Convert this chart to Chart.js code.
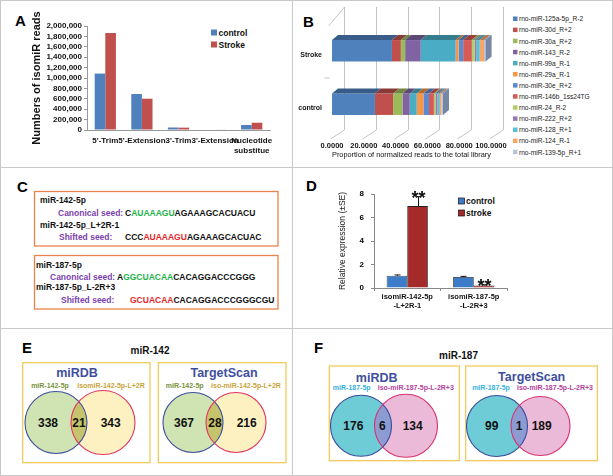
<!DOCTYPE html>
<html>
<head>
<meta charset="utf-8">
<script src="https://cdn.jsdelivr.net/npm/chart.js@4.4.0/dist/chart.umd.min.js"></script>
<style>
  body { margin: 0; background: #fff; }
  #fig { position: relative; width: 613px; height: 476px; overflow: hidden; }
  #fig canvas { position: absolute; }
  #art { position: absolute; left: 0; top: 0; }
</style>
</head>
<body>
<div id="fig">
  <svg id="art" width="613" height="476" font-family="'Liberation Sans', Arial, sans-serif"></svg>
  <canvas id="chartA" width="292" height="166" style="left:0;top:0"></canvas>
  <canvas id="chartB" width="320" height="167" style="left:293px;top:0"></canvas>
  <canvas id="chartD" width="320" height="158" style="left:293px;top:168px"></canvas>
</div>
<script>
// ---- panel A: isomiR read counts
const aCategories = ["5'-Trim", "5'-Extension", "3'-Trim", "3'-Extension", ["Nucleotide", "substitue"]];
const aSeries = ["control", "Stroke"];
const aControl = [1085000, 692000, 48000, 10000, 96000];
const aStroke = [1865000, 602000, 45000, 8000, 140000];

// ---- panel B: proportion of normalized reads
const bGroups = ["Stroke", "control"];
const bNames = ["rno-miR-125a-5p_R-2", "rno-miR-30d_R+2", "rno-miR-30a_R+2", "rno-miR-143_R-2",
  "rno-miR-99a_R-1", "rno-miR-29a_R-1", "rno-miR-30e_R+2", "rno-miR-146b_1ss24TG", "rno-miR-24_R-2",
  "rno-miR-222_R+2", "rno-miR-128_R+1", "rno-miR-124_R-1", "rno-miR-139-5p_R+1"];
const bStroke = [37.7, 5.6, 2.7, 9.8, 22.0, 1.8, 2.9, 5.4, 1.9, 1.0, 2.1, 2.7, 1.0];
const bControl = [27.0, 11.5, 5.8, 4.6, 4.4, 4.2, 3.5, 3.1, 1.0, 1.2, 1.3, 1.2, 1.0];

// ---- panel D: qPCR
const dCategories = [["isomiR-142-5p", "-L+2R-1"], ["isomiR-187-5p", "-L-2R+3"]];
const dSeries = ["control", "stroke"];
const dControl = [1.04, 0.93];
const dStroke = [6.97, 0.22];
const dControlSE = [0.07, 0.06];
const dStrokeSE = [0.8, 0.05];
const dStrokeSig = ["**", "**"];

// ---- panels E / F: target overlaps (only, shared, only)
const eTitle = "miR-142";
const eMirdb = [338, 21, 343];
const eTargetscan = [367, 28, 216];
const fTitle = "miR-187";
const fMirdb = [176, 6, 134];
const fTargetscan = [99, 1, 189];

const FONT = "'Liberation Sans', Arial, sans-serif";
Chart.defaults.font.family = FONT;
const bCols = ["#4f81bd", "#c0504d", "#9bbb59", "#8064a2", "#4bacc6", "#f79646", "#5a8ad0",
  "#d65a56", "#aed06a", "#9378b8", "#55bfd8", "#f9a665", "#b7c4dc"];
const aCols = ["#4f81bd", "#c0504d"];
const dCols = ["#3d7cc9", "#a52a2a"];

function shade(hex, f) {
  const n = parseInt(hex.slice(1), 16);
  const r = Math.round(((n >> 16) & 255) * f), g = Math.round(((n >> 8) & 255) * f), b = Math.round((n & 255) * f);
  return `rgb(${r},${g},${b})`;
}

// A
new Chart(document.getElementById("chartA"), {
  type: "bar",
  data: {
    labels: aCategories,
    datasets: [
      { label: aSeries[0], data: aControl, backgroundColor: aCols[0] },
      { label: aSeries[1], data: aStroke, backgroundColor: aCols[1] },
    ],
  },
  options: {
    responsive: false, animation: false, devicePixelRatio: 1,
    layout: { padding: { left: 30, top: 26, right: 22, bottom: 3 } },
    plugins: { legend: { display: false }, tooltip: { enabled: false } },
    datasets: { bar: { categoryPercentage: 0.58, barPercentage: 1 } },
    scales: {
      x: {
        grid: { display: false, drawTicks: false }, border: { color: "#999" },
        ticks: { font: { size: 8, weight: "bold" }, color: "#111", autoSkip: false, maxRotation: 0, padding: 6 },
        afterFit: (s) => { s.height = 33; },
      },
      y: {
        min: 0, max: 2000000,
        grid: { drawOnChartArea: false, tickLength: 3, color: "#999" }, border: { color: "#999" },
        ticks: { stepSize: 200000, autoSkip: false, font: { size: 8, weight: "bold" }, color: "#111", padding: 2,
          callback: (v) => v.toLocaleString("en-US") },
        title: { display: true, text: "Numbers of isomiR reads", font: { size: 11, weight: "bold" }, color: "#111", padding: 0 },
        afterFit: (s) => { s.width = 57; },
      },
    },
  },
});

// B : flat stacked bars with a drawn 3D look
const wall3d = {
  id: "wall3d",
  beforeDatasetsDraw(chart) {
    const { ctx, chartArea: a, scales: { x } } = chart;
    ctx.save();
    ctx.strokeStyle = "#c4c4c4";
    ctx.lineWidth = 1;
    x.ticks.forEach((t) => {
      const px = Math.round(x.getPixelForValue(t.value)) + 0.5;
      ctx.beginPath();
      ctx.moveTo(px - 2, a.bottom + 8);
      ctx.lineTo(px + 12, a.bottom - 1);
      ctx.lineTo(px + 12, a.top - 17);
      ctx.stroke();
    });
    const x0 = Math.round(x.getPixelForValue(0)) + 0.5;
    ctx.beginPath();
    ctx.moveTo(x0 - 4, a.top + 2);
    ctx.lineTo(x0 + 12, a.top - 17);
    ctx.moveTo(x0 - 8, (a.top + a.bottom) / 2 + 0.5);
    ctx.lineTo(x0 - 3, (a.top + a.bottom) / 2 + 0.5);
    ctx.stroke();
    ctx.restore();
  },
  afterDatasetsDraw(chart) {
    const ctx = chart.ctx;
    const dx = 6, dy = 5;
    const n = chart.data.datasets.length;
    ctx.save();
    chart.data.datasets.forEach((ds, i) => {
      chart.getDatasetMeta(i).data.forEach((bar) => {
        const p = bar.getProps(["x", "y", "base", "height"], true);
        const top = p.y - p.height / 2, bot = p.y + p.height / 2;
        const l = Math.min(p.base, p.x), r = Math.max(p.base, p.x);
        ctx.fillStyle = shade(ds.backgroundColor, 0.72);
        ctx.beginPath();
        ctx.moveTo(l, top); ctx.lineTo(l + dx, top - dy); ctx.lineTo(r + dx, top - dy); ctx.lineTo(r, top);
        ctx.closePath(); ctx.fill();
        if (i === n - 1) {
          ctx.fillStyle = "#7586a6";
          ctx.beginPath();
          ctx.moveTo(r, top); ctx.lineTo(r + dx, top - dy); ctx.lineTo(r + dx, bot - dy); ctx.lineTo(r, bot);
          ctx.closePath(); ctx.fill();
        }
      });
    });
    ctx.restore();
  },
};

new Chart(document.getElementById("chartB"), {
  type: "bar",
  data: {
    labels: bGroups,
    datasets: bNames.map((name, i) => ({ label: name, data: [bStroke[i], bControl[i]], backgroundColor: bCols[i] })),
  },
  options: {
    indexAxis: "y", responsive: false, animation: false, devicePixelRatio: 1,
    layout: { padding: { left: 0, top: 24, right: 122, bottom: 8 } },
    plugins: { legend: { display: false }, tooltip: { enabled: false } },
    datasets: { bar: { categoryPercentage: 1, barPercentage: 0.4 } },
    scales: {
      x: {
        stacked: true, min: 0, max: 100,
        grid: { display: false, drawTicks: false }, border: { display: false },
        ticks: { stepSize: 20, autoSkip: false, maxRotation: 0, font: { size: 7.5, weight: "bold" }, color: "#111", padding: 10,
          callback: (v) => Number(v).toFixed(4) },
        title: { display: true, text: "Proportion of normalized reads to the total library",
          font: { size: 7.5 }, color: "#111", padding: { top: 1, bottom: 0 } },
        afterFit: (s) => { s.height = 28; },
      },
      y: {
        stacked: true, grid: { display: false, drawTicks: false }, border: { display: false },
        ticks: { font: { size: 7, weight: "bold" }, color: "#111", padding: 10, labelOffset: 4 },
        afterFit: (s) => { s.width = 39; },
      },
    },
  },
  plugins: [wall3d],
});

// D : bars with SE and significance marks
const errorBars = {
  id: "errorBars",
  afterDatasetsDraw(chart) {
    const { ctx, scales: { y } } = chart;
    ctx.save();
    ctx.strokeStyle = "#111";
    ctx.lineWidth = 1;
    chart.data.datasets.forEach((ds, i) => {
      chart.getDatasetMeta(i).data.forEach((bar, j) => {
        const x = Math.round(bar.x) + 0.5;
        const yTop = y.getPixelForValue(ds.data[j] + ds.errors[j]);
        ctx.beginPath();
        ctx.moveTo(x, bar.y); ctx.lineTo(x, yTop);
        ctx.moveTo(x - 3, yTop); ctx.lineTo(x + 3, yTop);
        ctx.stroke();
        if (ds.marks && ds.marks[j]) {
          ctx.fillStyle = "#111";
          ctx.font = "bold 18px " + FONT;
          ctx.textAlign = "center";
          ctx.textBaseline = "alphabetic";
          ctx.fillText(ds.marks[j], x, yTop + 7);
        }
      });
    });
    ctx.restore();
  },
};

new Chart(document.getElementById("chartD"), {
  type: "bar",
  data: {
    labels: dCategories,
    datasets: [
      { label: dSeries[0], data: dControl, errors: dControlSE, backgroundColor: dCols[0], borderColor: "#222", borderWidth: 0.8 },
      { label: dSeries[1], data: dStroke, errors: dStrokeSE, marks: dStrokeSig, backgroundColor: dCols[1], borderColor: "#222", borderWidth: 0.8 },
    ],
  },
  options: {
    responsive: false, animation: false, devicePixelRatio: 1,
    layout: { padding: { left: 45, top: 26, right: 106, bottom: 2 } },
    plugins: { legend: { display: false }, tooltip: { enabled: false } },
    datasets: { bar: { categoryPercentage: 0.62, barPercentage: 1 } },
    scales: {
      x: {
        grid: { drawOnChartArea: false, tickLength: 3, color: "#888", offset: true }, border: { color: "#888" },
        ticks: { font: { size: 7.5, weight: "bold" }, color: "#111", padding: 1, autoSkip: false, maxRotation: 0 },
        afterFit: (s) => { s.height = 36; },
      },
      y: {
        min: 0, max: 8,
        grid: { drawOnChartArea: false, tickLength: 3, color: "#888" }, border: { color: "#888" },
        ticks: { stepSize: 2, autoSkip: false, font: { size: 8, weight: "bold" }, color: "#000", padding: 7 },
        title: { display: true, text: "Relative expression (±SE)", font: { size: 8.5 }, color: "#222", padding: 0 },
        afterFit: (s) => { s.width = 36; },
      },
    },
  },
  plugins: [errorBars],
});

// ---- static artwork: frame, letters, legends, panel C, Venn panels
let s = "";
s += '<rect x="0.5" y="0.5" width="612" height="475" fill="none" stroke="#c8c8c8"/>';
s += '<line x1="292.5" y1="0" x2="292.5" y2="476" stroke="#c8c8c8"/>';
s += '<line x1="0" y1="167.5" x2="613" y2="167.5" stroke="#c8c8c8"/>';
s += '<line x1="0" y1="328.5" x2="613" y2="328.5" stroke="#c8c8c8"/>';
[["A", 15, 26], ["B", 303, 27], ["C", 17, 192], ["D", 306, 191], ["E", 22, 353], ["F", 314, 353]].forEach((l) => {
  s += `<text x="${l[1]}" y="${l[2]}" font-size="15" font-weight="bold" fill="#000">${l[0]}</text>`;
});

// legends
aSeries.forEach((name, i) => {
  const y = 29.5 + i * 12;
  s += `<rect x="211" y="${y}" width="6" height="6" fill="${aCols[i]}"/>`;
  s += `<text x="218.5" y="${y + 6}" font-size="8.5" font-weight="bold" fill="#111">${name}</text>`;
});
bNames.forEach((name, i) => {
  const y = 16.5 + i * 11.1;
  s += `<rect x="513" y="${y}" width="4.5" height="4.5" fill="${bCols[i]}"/>`;
  s += `<text x="519" y="${y + 4.8}" font-size="6.6" fill="#222">${name}</text>`;
});
dSeries.forEach((name, i) => {
  const y = 198 + i * 12;
  s += `<rect x="458.5" y="${y}" width="6" height="6" fill="${dCols[i]}" stroke="#111" stroke-width="0.7"/>`;
  s += `<text x="466" y="${y + 6}" font-size="8.5" font-weight="bold" fill="#111">${name}</text>`;
});

// panel C
const PURPLE = "#7b3fae", GREEN = "#22b24c", RED = "#e8262b";
function seq(x, y, label, seqX, parts) {
  let t = `<text y="${y}" font-size="8.5" font-weight="bold"><tspan x="${x}" fill="${PURPLE}">${label}</tspan><tspan x="${seqX}">`;
  parts.forEach((p) => { t += `<tspan fill="${p[1]}">${p[0]}</tspan>`; });
  return t + "</tspan></text>";
}
function name(x, y, txt) {
  return `<text x="${x}" y="${y}" font-size="8.5" font-weight="bold" fill="#111">${txt}</text>`;
}
s += '<rect x="34.5" y="191.5" width="243.5" height="54.5" fill="none" stroke="#e8834a" stroke-width="1.3"/>';
s += '<rect x="34.5" y="255.5" width="243.5" height="53.5" fill="none" stroke="#e8834a" stroke-width="1.3"/>';
s += name(40, 203, "miR-142-5p");
s += seq(58, 215.5, "Canonical seed:", 125, [["C", "#111"], ["AUAAAGU", GREEN], ["AGAAAGCACUACU", "#111"]]);
s += name(40, 227.5, "miR-142-5p_L+2R-1");
s += seq(59, 240, "Shifted seed:", 125, [["CCC", "#111"], ["AUAAAGU", RED], ["AGAAAGCACUAC", "#111"]]);
s += name(36, 267.5, "miR-187-5p");
s += seq(50, 280, "Canonical seed:", 117, [["A", "#111"], ["GGCUACAA", GREEN], ["CACAGGACCCGGG", "#111"]]);
s += name(36, 290, "miR-187-5p_L-2R+3");
s += seq(61, 302.5, "Shifted seed:", 130, [["GCUACAA", RED], ["CACAGGACCCGGGCGU", "#111"]]);

// panels E and F
function venn(id, box, head, sub, counts, L, R, nx, ny, pal) {
  let t = `<rect x="${box[0]}" y="${box[1]}" width="${box[2]}" height="${box[3]}" fill="none" stroke="#f2c54e" stroke-width="1.2"/>`;
  t += `<text x="${head[1]}" y="${head[2]}" text-anchor="middle" font-size="12.5" font-weight="bold" fill="#3f4fa0">${head[0]}</text>`;
  sub.forEach((sb, i) => {
    t += `<text x="${sb[1]}" y="${sb[2]}" text-anchor="middle" font-size="7" font-weight="bold" fill="${pal.sub[i]}">${sb[0]}</text>`;
  });
  t += `<clipPath id="${id}"><circle cx="${L[0]}" cy="${L[1]}" r="${L[2]}"/></clipPath>`;
  t += `<circle cx="${L[0]}" cy="${L[1]}" r="${L[2]}" fill="${pal.l}"/>`;
  t += `<circle cx="${R[0]}" cy="${R[1]}" r="${R[2]}" fill="${pal.r}"/>`;
  t += `<circle cx="${R[0]}" cy="${R[1]}" r="${R[2]}" fill="${pal.both}" clip-path="url(#${id})"/>`;
  t += `<circle cx="${L[0]}" cy="${L[1]}" r="${L[2]}" fill="none" stroke="${pal.ls}" stroke-width="1.1"/>`;
  t += `<circle cx="${R[0]}" cy="${R[1]}" r="${R[2]}" fill="none" stroke="${pal.rs}" stroke-width="1.1"/>`;
  counts.forEach((c, i) => {
    t += `<text x="${nx[i]}" y="${ny}" text-anchor="middle" font-size="12" font-weight="bold" fill="#111">${c}</text>`;
  });
  return t;
}
const palE = { l: "#cfe3b3", r: "#fdf1c2", both: "#c5c46c", ls: "#3d4e9e", rs: "#e23462", sub: ["#77933c", "#c8a43c"] };
const palF = { l: "#6dccd6", r: "#ebbad8", both: "#8d9bd3", ls: "#3b4c9c", rs: "#d8306f", sub: ["#36b2e0", "#b3429c"] };
s += `<text x="150" y="353.5" text-anchor="middle" font-size="10" font-weight="bold" fill="#111">${eTitle}</text>`;
s += `<text x="458.5" y="358.5" text-anchor="middle" font-size="10" font-weight="bold" fill="#111">${fTitle}</text>`;
s += venn("e1", [22.7, 362.7, 127.3, 100], ["miRDB", 77, 376.5],
  [["miR-142-5p", 50, 387.5], ["isomiR-142-5p-L+2R", 111, 387.5]], eMirdb,
  [56, 422.5, 31], [103, 422.5, 32], [48, 79, 110.7], 426.5, palE);
s += venn("e2", [158.3, 362.7, 127.7, 100], ["TargetScan", 224, 376.5],
  [["miR-142-5p", 184.7, 387.5], ["iso-miR-142-5p-L+2R", 246, 387.5]], eTargetscan,
  [193, 422.5, 30], [236, 422.5, 30], [184, 215, 246.7], 426.5, palE);
s += venn("f1", [329.3, 366, 130, 94.7], ["miRDB", 376.7, 381.5],
  [["miR-187-5p", 351.7, 390], ["iso-miR-187-5p-L-2R+3", 415.8, 390]], fMirdb,
  [361, 425.8, 30.5], [406, 425.8, 31.5], [353.3, 382.3, 412.7], 429.8, palF);
s += venn("f2", [465.7, 366, 131.6, 94.7], ["TargetScan", 531.7, 380.5],
  [["miR-187-5p", 491, 390], ["iso-miR-187-5p-L-2R+3", 555, 390]], fTargetscan,
  [497, 426, 30.5], [540.5, 426, 29.5], [491.7, 519, 541.7], 430.2, palF);

document.getElementById("art").innerHTML = s;
</script>
</body>
</html>
